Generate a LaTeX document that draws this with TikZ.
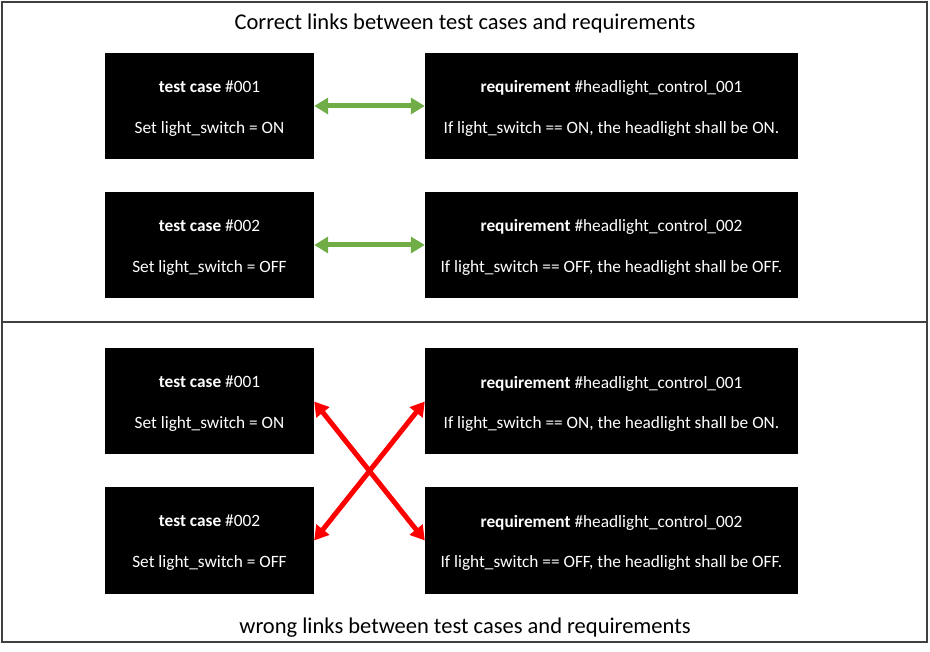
\documentclass[tikz,border=0pt]{standalone}
\usepackage{fontspec}
\setmainfont{Carlito}
\usetikzlibrary{arrows.meta}
\definecolor{okgreen}{HTML}{70AD47}
\definecolor{frame}{HTML}{404040}
\begin{document}
\begin{tikzpicture}[x=1pt,y=-1pt,
  lbl/.style={text=white,inner sep=0pt,align=center,font=\fontsize{17.3}{20.8}\selectfont,yshift=-2.5pt},
  box/.style={fill=black,inner sep=0pt},
  tcbox/.style={box,minimum width=209pt,minimum height=106pt},
  reqbox/.style={box,minimum width=373pt,minimum height=106pt},
  title/.style={font=\fontsize{22.5}{26}\selectfont},
  good/.style={draw=okgreen,line width=5pt,{Triangle[length=14pt,width=16pt]}-{Triangle[length=14pt,width=16pt]}},
  bad/.style={draw=red,line width=5pt,{Triangle[length=14pt,width=16pt]}-{Triangle[length=14pt,width=16pt]}}
]
\useasboundingbox (0,0) rectangle (930,652);
\draw[frame,line width=1.5pt] (2,2) rectangle (927,642);
\draw[frame,line width=2pt] (2,322) -- (927,322);
\node[title] (t1) at (465,24) {Correct links between test cases and requirements};
\node[title] (t2) at (465,628) {wrong links between test cases and requirements};

\newcommand{\tcone}{\textbf{test case} \#001\\[20pt]Set light\_switch = ON}
\newcommand{\tctwo}{\textbf{test case} \#002\\[20pt]Set light\_switch = OFF}
\newcommand{\rqone}{\textbf{requirement} \#headlight\_control\_001\\[20pt]If light\_switch == ON, the headlight shall be ON.}
\newcommand{\rqtwo}{\textbf{requirement} \#headlight\_control\_002\\[20pt]If light\_switch == OFF, the headlight shall be OFF.}

\node[tcbox,label={[lbl]center:\tcone}] (a1) at (209.5,106) {};
\node[tcbox,label={[lbl]center:\tctwo}] (a2) at (209.5,245) {};
\node[reqbox,label={[lbl]center:\rqone}] (b1) at (611.5,106) {};
\node[reqbox,label={[lbl]center:\rqtwo}] (b2) at (611.5,245) {};

\node[tcbox,label={[lbl]center:\tcone}] (c1) at (209.5,401.5) {};
\node[tcbox,label={[lbl]center:\tctwo}] (c2) at (209.5,540.5) {};
\node[reqbox,label={[lbl]center:\rqone}] (d1) at (611.5,401.5) {};
\node[reqbox,label={[lbl]center:\rqtwo}] (d2) at (611.5,540.5) {};

\draw[good] (a1.east) -- (b1.west);
\draw[good] (a2.east) -- (b2.west);
\draw[bad] (c1.east) -- (d2.west);
\draw[bad] (c2.east) -- (d1.west);
\end{tikzpicture}
\end{document}
